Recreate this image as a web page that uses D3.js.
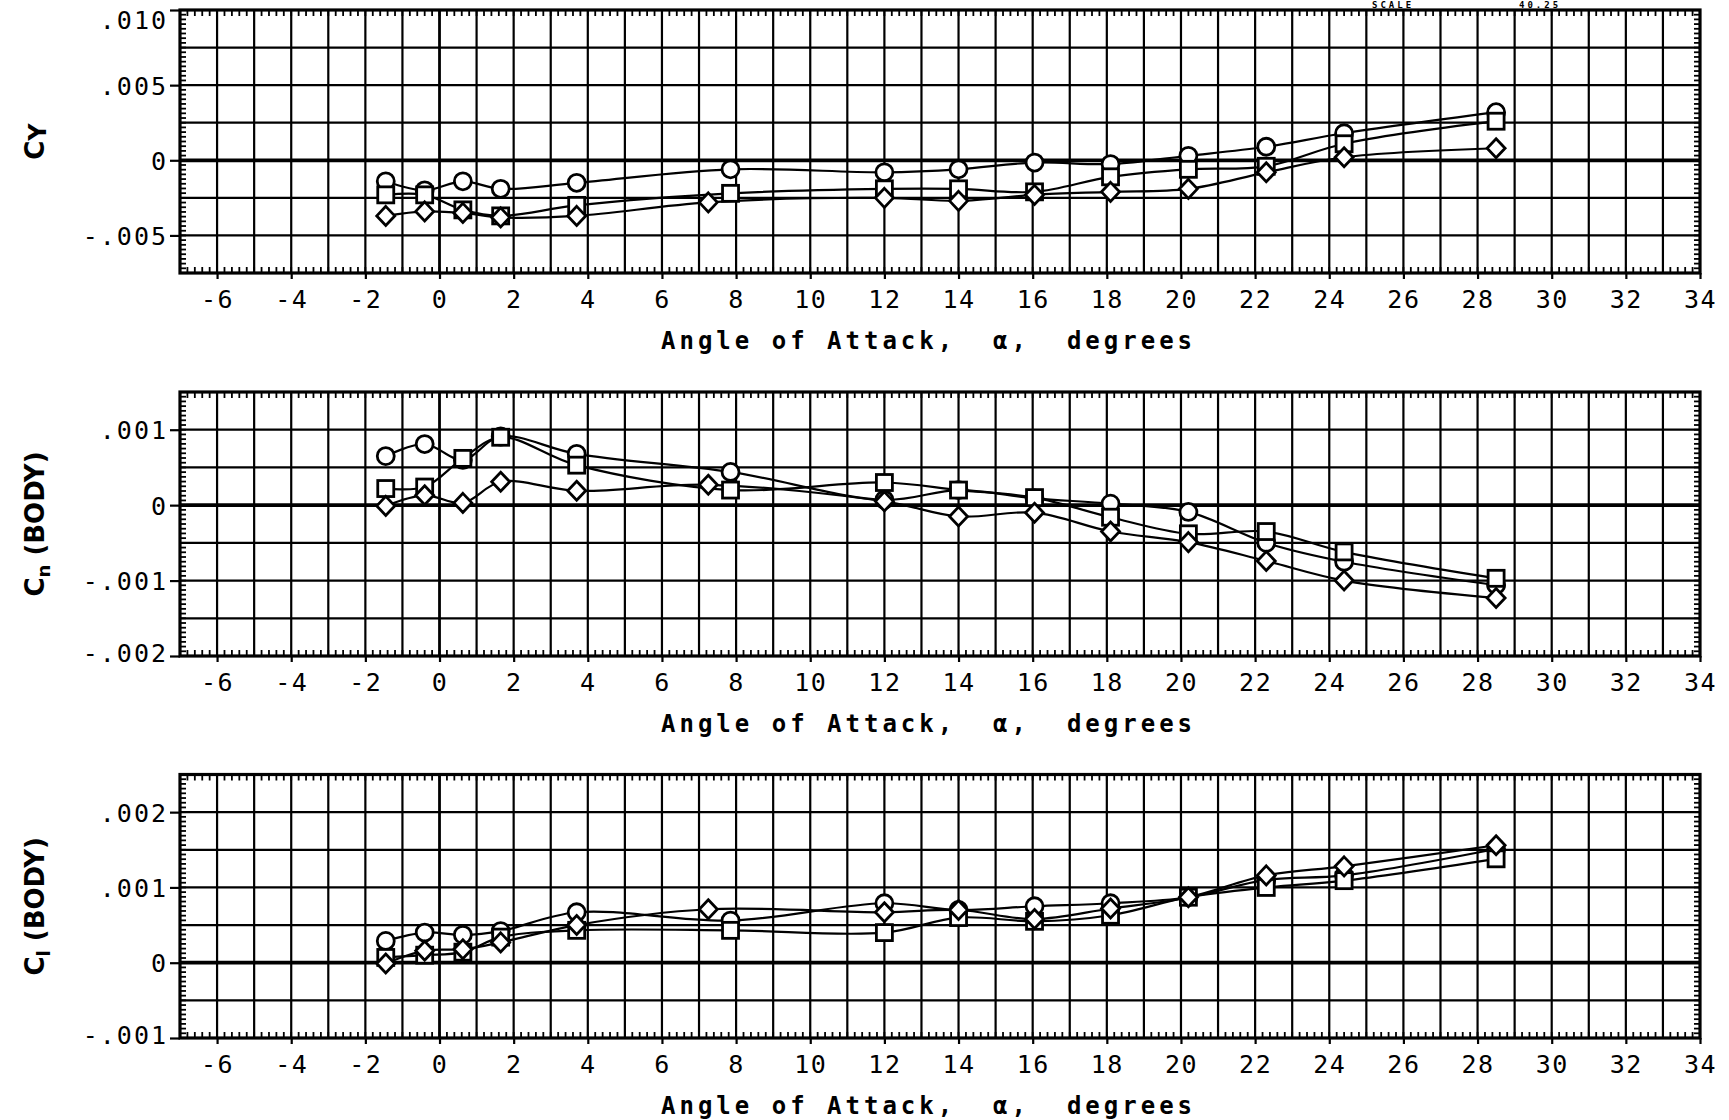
<!DOCTYPE html>
<html>
<head>
<meta charset="utf-8">
<script src="https://cdn.jsdelivr.net/npm/d3@7"></script>
<style>
  body { margin: 0; background: #fff; }
  svg { display: block; }
</style>
</head>
<body>
<svg id="chart" width="1729" height="1120"></svg>
<script>
// ---------------- DATA ----------------
const xDomain = [-7, 34];
const xTicks = [-6, -4, -2, 0, 2, 4, 6, 8, 10, 12, 14, 16, 18, 20, 22, 24, 26, 28, 30, 32, 34];

// angle of attack for circle / square series, and for diamond series
const alpha        = [-1.45, -0.4, 0.63, 1.65, 3.7, 7.85, 12.0, 14.0, 16.05, 18.1, 20.2, 22.3, 24.4, 28.5];
const alphaDiamond = [-1.45, -0.4, 0.63, 1.65, 3.7, 7.25, 12.0, 14.0, 16.05, 18.1, 20.2, 22.3, 24.4, 28.5];

// CY
const cyDomain = [-0.0075, 0.010];
const cyTicks = [0.010, 0.005, 0, -0.005];
const cyTickLabels = [".010", ".005", "0", "-.005"];
const cyCircle  = [-0.0014, -0.0020, -0.0014, -0.0019, -0.0015, -0.0006, -0.0008, -0.0006, -0.00015, -0.00025, 0.0003, 0.0009, 0.0018, 0.0032];
const cySquare  = [-0.0023, -0.0023, -0.0033, -0.0037, -0.0030, -0.0022, -0.0019, -0.0019, -0.0021, -0.0011, -0.0006, -0.0004, 0.0011, 0.0026];
const cyDiamond = [-0.0037, -0.0034, -0.0035, -0.0038, -0.0037, -0.0028, -0.0025, -0.0027, -0.0023, -0.0021, -0.0019, -0.0008, 0.0002, 0.0008];

// Cn (BODY)
const cnDomain = [-0.002, 0.0015];
const cnTicks = [0.001, 0, -0.001, -0.002];
const cnTickLabels = [".001", "0", "-.001", "-.002"];
const cnCircle  = [0.00065, 0.00081, 0.00060, 0.00091, 0.00068, 0.00044, 0.00007, 0.00020, 0.00009, 0.00002, -0.00009, -0.00050, -0.00075, -0.00106];
const cnSquare  = [0.00022, 0.00024, 0.00062, 0.00090, 0.00053, 0.00020, 0.00030, 0.00020, 0.00010, -0.00016, -0.00038, -0.00035, -0.00062, -0.00097];
const cnDiamond = [-0.00001, 0.00013, 0.00003, 0.00031, 0.00019, 0.00027, 0.00005, -0.00015, -0.00010, -0.00035, -0.00049, -0.00074, -0.00100, -0.00123];

// Cl (BODY)
const clDomain = [-0.001, 0.0025];
const clTicks = [0.002, 0.001, 0, -0.001];
const clTickLabels = [".002", ".001", "0", "-.001"];
const clCircle  = [0.00029, 0.00040, 0.00037, 0.00042, 0.00067, 0.00056, 0.00079, 0.00070, 0.00075, 0.00079, 0.00087, 0.00110, 0.00116, 0.00151];
const clSquare  = [0.00007, 0.00010, 0.00014, 0.00034, 0.00043, 0.00043, 0.00040, 0.00060, 0.00055, 0.00063, 0.00087, 0.00100, 0.00109, 0.00138];
const clDiamond = [-0.00001, 0.00016, 0.00018, 0.00027, 0.00050, 0.00071, 0.00067, 0.00070, 0.00058, 0.00072, 0.00087, 0.00116, 0.00128, 0.00156];

const xTitle = "Angle of Attack,  \u03b1,  degrees";
const headerTexts = ["SCALE", "40.25"];

// ---------------- DRAW ----------------
const svg = d3.select("#chart");
const x = d3.scaleLinear().domain(xDomain).range([180, 1700]);

const layout = [
  { top: 10,    bottom: 273 },
  { top: 392,   bottom: 656 },
  { top: 774.5, bottom: 1038 }
];

const panels = [
  { yDomain: cyDomain, step: 0.0025, ticks: cyTicks, tickLabels: cyTickLabels,
    series: [cyCircle, cySquare, cyDiamond], sym: "C", sub: "Y", subSize: 24, subShift: 2, rest: "" },
  { yDomain: cnDomain, step: 0.0005, ticks: cnTicks, tickLabels: cnTickLabels,
    series: [cnCircle, cnSquare, cnDiamond], sym: "C", sub: "n", subSize: 18, subShift: 6, rest: " (BODY)" },
  { yDomain: clDomain, step: 0.0005, ticks: clTicks, tickLabels: clTickLabels,
    series: [clCircle, clSquare, clDiamond], sym: "C", sub: "l", subSize: 18, subShift: 6, rest: " (BODY)" }
];
const seriesX = [alpha, alpha, alphaDiamond];
const shapes = ["circle", "square", "diamond"];

const monoFont = "'DejaVu Sans Mono', 'Liberation Mono', monospace";
const sansFont = "'DejaVu Sans', 'Liberation Sans', sans-serif";

// header (small, at the very top right)
svg.append("text").attr("x", 1372).attr("y", 8).text(headerTexts[0])
  .attr("font-family", monoFont).attr("font-size", 9).attr("font-weight", "bold").attr("letter-spacing", "3px");
svg.append("text").attr("x", 1519).attr("y", 8).text(headerTexts[1])
  .attr("font-family", monoFont).attr("font-size", 9).attr("font-weight", "bold").attr("letter-spacing", "3px");

panels.forEach((p, i) => {
  const L = layout[i];
  const y = d3.scaleLinear().domain(p.yDomain).range([L.bottom, L.top]);
  const g = svg.append("g");

  // vertical grid lines every degree
  const vgrid = d3.range(xDomain[0] + 1, xDomain[1]);
  g.append("g").selectAll("line").data(vgrid).join("line")
    .attr("x1", d => x(d)).attr("x2", d => x(d))
    .attr("y1", L.top).attr("y2", L.bottom)
    .attr("stroke", "#000").attr("stroke-width", d => d === 0 ? 2.8 : 2.2);

  // horizontal grid lines
  const n = Math.round((p.yDomain[1] - p.yDomain[0]) / p.step);
  const hgrid = d3.range(1, n).map(k => p.yDomain[0] + k * p.step);
  g.append("g").selectAll("line").data(hgrid).join("line")
    .attr("x1", x.range()[0]).attr("x2", x.range()[1])
    .attr("y1", d => y(d)).attr("y2", d => y(d))
    .attr("stroke", "#000").attr("stroke-width", d => Math.abs(d) < 1e-9 ? 3.8 : 2.2);

  // small inner ticks on top/bottom (every 0.2 deg)
  const xm = d3.range(0, Math.round((xDomain[1] - xDomain[0]) / 0.2) + 1).map(k => xDomain[0] + k * 0.2);
  const tg = g.append("g").attr("stroke", "#000").attr("stroke-width", 1.8);
  tg.selectAll(".tt").data(xm).join("line").attr("class", "tt")
    .attr("x1", d => x(d)).attr("x2", d => x(d)).attr("y1", L.top).attr("y2", L.top + 6);
  tg.selectAll(".tb").data(xm).join("line").attr("class", "tb")
    .attr("x1", d => x(d)).attr("x2", d => x(d)).attr("y1", L.bottom - 6).attr("y2", L.bottom);
  // small inner ticks on left/right
  const ym = d3.range(0, n * 8 + 1).map(k => p.yDomain[0] + k * p.step / 8);
  tg.selectAll(".tl").data(ym).join("line").attr("class", "tl")
    .attr("x1", x.range()[0]).attr("x2", x.range()[0] + 6).attr("y1", d => y(d)).attr("y2", d => y(d));
  tg.selectAll(".tr").data(ym).join("line").attr("class", "tr")
    .attr("x1", x.range()[1] - 6).attr("x2", x.range()[1]).attr("y1", d => y(d)).attr("y2", d => y(d));

  // frame
  g.append("rect").attr("x", x.range()[0]).attr("y", L.top)
    .attr("width", x.range()[1] - x.range()[0]).attr("height", L.bottom - L.top)
    .attr("fill", "none").attr("stroke", "#000").attr("stroke-width", 3.2);

  // bottom axis
  const ax = d3.axisBottom(x).tickValues(xTicks).tickFormat(d => String(d)).tickSize(6).tickPadding(11);
  const axg = g.append("g").attr("transform", `translate(0,${L.bottom})`).call(ax);
  axg.select(".domain").remove();
  axg.selectAll("line").attr("stroke-width", 2.2);
  axg.selectAll("text").attr("font-family", monoFont).attr("font-size", 25)
    .attr("letter-spacing", "1.5px").attr("fill", "#000");

  // left axis
  const ay = d3.axisLeft(y).tickValues(p.ticks)
    .tickFormat(d => p.tickLabels[p.ticks.indexOf(d)]).tickSize(10).tickPadding(2);
  const ayg = g.append("g").attr("transform", `translate(${x.range()[0]},0)`).call(ay);
  ayg.select(".domain").remove();
  ayg.selectAll("line").attr("stroke-width", 2.2);
  ayg.selectAll("text").attr("font-family", monoFont).attr("font-size", 25)
    .attr("letter-spacing", "2px").attr("fill", "#000")
    .attr("dy", d => d === p.yDomain[1] ? "0.75em" : (d === p.yDomain[0] ? "0.2em" : "0.36em"));

  // curves
  const line = d3.line().x(d => x(d[0])).y(d => y(d[1])).curve(d3.curveCatmullRom.alpha(0.5));
  p.series.forEach((vals, s) => {
    const pts = vals.map((v, k) => [seriesX[s][k], v]);
    g.append("path").datum(pts).attr("d", line)
      .attr("fill", "none").attr("stroke", "#000").attr("stroke-width", 2.2);
  });

  // markers
  p.series.forEach((vals, s) => {
    const pts = vals.map((v, k) => [seriesX[s][k], v]);
    const mg = g.append("g").attr("fill", "#fff").attr("stroke", "#000").attr("stroke-width", 2.8);
    if (shapes[s] === "circle") {
      mg.selectAll("circle").data(pts).join("circle")
        .attr("cx", d => x(d[0])).attr("cy", d => y(d[1])).attr("r", 8.5);
    } else if (shapes[s] === "square") {
      mg.selectAll("rect").data(pts).join("rect")
        .attr("x", d => x(d[0]) - 8).attr("y", d => y(d[1]) - 8).attr("width", 16).attr("height", 16);
    } else {
      mg.selectAll("path").data(pts).join("path")
        .attr("d", d => {
          const cx = x(d[0]), cy = y(d[1]);
          return `M${cx},${cy - 9.5}L${cx + 9},${cy}L${cx},${cy + 9.5}L${cx - 9},${cy}Z`;
        });
    }
  });

  // x axis title
  g.append("text").attr("x", 661).attr("y", L.bottom + 76)
    .attr("font-family", monoFont).attr("font-size", 24).attr("font-weight", "bold")
    .attr("letter-spacing", "4px").style("white-space", "pre").attr("fill", "#000")
    .text(xTitle);

  // y axis title
  const cy = (L.top + L.bottom) / 2;
  const yt = g.append("text").attr("transform", `translate(44,${cy}) rotate(-90)`)
    .attr("text-anchor", "middle").attr("font-family", sansFont).attr("font-size", 26)
    .attr("font-weight", "bold").style("white-space", "pre").attr("fill", "#000");
  yt.append("tspan").text(p.sym);
  yt.append("tspan").attr("font-size", p.subSize).attr("dy", p.subShift).text(p.sub);
  if (p.rest) yt.append("tspan").attr("font-size", 26).attr("dy", -p.subShift).text(p.rest);
});
</script>
</body>
</html>
